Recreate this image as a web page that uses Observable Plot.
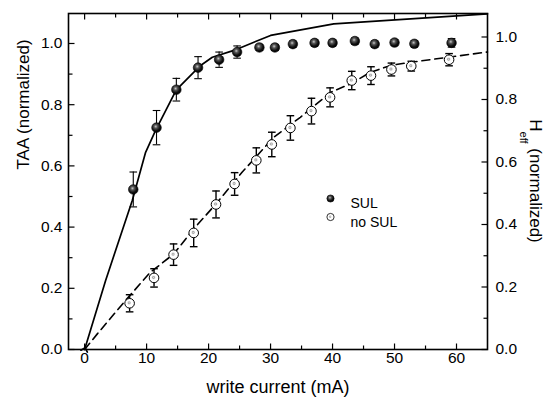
<!DOCTYPE html>
<html><head><meta charset="utf-8">
<script src="https://cdn.jsdelivr.net/npm/d3@7"></script>
<script src="https://cdn.jsdelivr.net/npm/@observablehq/plot@0.6"></script>
<style>body{margin:0;background:#fff}</style>
</head><body><div id="chart"></div>
<script>
// ---- data ----
const sulX   = [7.85, 11.6, 14.8, 18.3, 21.7, 24.6, 28.2, 30.7, 33.6, 37.1, 40.0, 43.6, 46.8, 50.0, 53.2, 59.2];
const sulY   = [0.523, 0.725, 0.849, 0.921, 0.947, 0.972, 0.987, 0.987, 0.998, 1.002, 1.002, 1.008, 0.998, 1.003, 0.999, 1.002];
const sulErr = [0.057, 0.056, 0.037, 0.036, 0.025, 0.020, 0.010, 0.010, 0.010, 0.010, 0.010, 0.010, 0.010, 0.010, 0.010, 0.014];

const noX   = [7.26, 11.2, 14.35, 17.6, 21.2, 24.2, 27.7, 30.2, 33.2, 36.6, 39.6, 43.1, 46.2, 49.5, 52.7, 58.8];
const noY   = [0.151, 0.234, 0.310, 0.381, 0.474, 0.541, 0.618, 0.670, 0.724, 0.779, 0.824, 0.879, 0.895, 0.915, 0.926, 0.947];
const noErr = [0.028, 0.030, 0.035, 0.045, 0.044, 0.037, 0.041, 0.040, 0.040, 0.042, 0.031, 0.030, 0.029, 0.021, 0.016, 0.020];

// H_eff curves (right axis values)
const solidX = [0, 3.39, 7.69, 9.84, 11.45, 14.79, 18.71, 20.6, 24.08, 30.0, 40.2, 65.0];
const solidV = [0, 0.221, 0.477, 0.631, 0.701, 0.831, 0.909, 0.935, 0.957, 1.005, 1.042, 1.074];
const dashX  = [0, 2.05, 6.6, 10.6, 14.4, 17.6, 21.2, 25.4, 30.5, 34.8, 39.7, 42.9, 46.1, 49.4, 52.6, 65.0];
const dashV  = [0, 0.050, 0.157, 0.247, 0.306, 0.386, 0.466, 0.567, 0.679, 0.743, 0.823, 0.850, 0.887, 0.909, 0.919, 0.952];

const xMajor = [0, 10, 20, 30, 40, 50, 60];
const xMinor = [5, 15, 25, 35, 45, 55];
const yMajor = [0, 0.2, 0.4, 0.6, 0.8, 1.0];
const yMinor = [0.1, 0.3, 0.5, 0.7, 0.9];
const legendLabels = ["SUL", "no SUL"];
const xTitle = "write current (mA)";
const yTitle = "TAA (normalized)";
const y2Title = ["H", "eff", " (normalized)"];

// ---- build ----
const sul = sulX.map((x, i) => ({x, y: sulY[i], e: sulErr[i]}));
const nos = noX.map((x, i) => ({x, y: noY[i], e: noErr[i]}));
const solid = solidX.map((x, i) => ({x, v: solidV[i]}));
const dash = dashX.map((x, i) => ({x, v: dashV[i]}));

const yTop = 1.098;     // left axis top
const k = 312.5 / 306;  // right-axis unit relative to left-axis unit

const seg = (dx, dy) => ({draw(ctx) { ctx.moveTo(0, 0); ctx.lineTo(dx, dy); }});
const capSym = {draw(ctx) { ctx.moveTo(-3.8, 0); ctx.lineTo(3.8, 0); }};
const FONT = "Liberation Sans, Arial, Helvetica, sans-serif";

const defs = () => {
  const d = d3.create("svg:defs");
  const g1 = d.append("radialGradient").attr("id", "gSul").attr("cx", "0.42").attr("cy", "0.38").attr("r", "0.62");
  g1.append("stop").attr("offset", "0").attr("stop-color", "#c8c8c8");
  g1.append("stop").attr("offset", "0.3").attr("stop-color", "#555");
  g1.append("stop").attr("offset", "0.7").attr("stop-color", "#111");
  g1.append("stop").attr("offset", "1").attr("stop-color", "#000");
  const g2 = d.append("radialGradient").attr("id", "gNo").attr("cx", "0.45").attr("cy", "0.45").attr("r", "0.55");
  g2.append("stop").attr("offset", "0").attr("stop-color", "#e4e4e4");
  g2.append("stop").attr("offset", "0.2").attr("stop-color", "#a8a8a8");
  g2.append("stop").attr("offset", "0.33").attr("stop-color", "#ececec");
  g2.append("stop").attr("offset", "0.45").attr("stop-color", "#fff");
  g2.append("stop").attr("offset", "1").attr("stop-color", "#fff");
  return d.node();
};

const tickMarks = (data, anchor, sym, yf) => Plot.dot(data, {
  ...(anchor === "top" || anchor === "bottom" ? {x: d => d} : {y: yf}),
  frameAnchor: anchor, symbol: sym, stroke: "black", fill: "none", strokeWidth: 1.2
});

const chart = Plot.plot({
  width: 546, height: 401,
  marginLeft: 68, marginRight: 59, marginTop: 13, marginBottom: 52,
  x: {domain: [-2.6, 65], axis: null},
  y: {domain: [0, yTop], axis: null},
  style: {fontFamily: FONT, background: "white", color: "black"},
  marks: [
    defs,
    // curves
    Plot.line(solid, {x: "x", y: d => d.v * k, stroke: "black", strokeWidth: 1.7, markerStart: "arrow"}),
    Plot.line(dash, {x: "x", y: d => d.v * k, stroke: "black", strokeWidth: 1.6, strokeDasharray: "8,5"}),
    // error bars
    Plot.ruleX(sul, {x: "x", y1: d => d.y - d.e, y2: d => d.y + d.e, stroke: "black", strokeWidth: 1.1}),
    Plot.dot(sul, {x: "x", y: d => d.y - d.e, symbol: capSym, stroke: "black", fill: "none", strokeWidth: 1.1}),
    Plot.dot(sul, {x: "x", y: d => d.y + d.e, symbol: capSym, stroke: "black", fill: "none", strokeWidth: 1.1}),
    Plot.ruleX(nos, {x: "x", y1: d => d.y - d.e, y2: d => d.y + d.e, stroke: "black", strokeWidth: 1.4}),
    Plot.dot(nos, {x: "x", y: d => d.y - d.e, symbol: capSym, stroke: "black", fill: "none", strokeWidth: 1.4}),
    Plot.dot(nos, {x: "x", y: d => d.y + d.e, symbol: capSym, stroke: "black", fill: "none", strokeWidth: 1.4}),
    // points
    Plot.dot(sul, {x: "x", y: "y", r: 4.8, fill: "url(#gSul)", stroke: "black", strokeWidth: 0.6}),
    Plot.dot(nos, {x: "x", y: "y", r: 4.8, fill: "url(#gNo)", stroke: "black", strokeWidth: 1}),
    // frame & ticks (inward)
    Plot.frame({stroke: "black", strokeWidth: 1.6}),
    tickMarks(xMajor, "bottom", seg(0, -6)),
    tickMarks(xMinor, "bottom", seg(0, -4)),
    tickMarks(xMajor, "top", seg(0, 6)),
    tickMarks(xMinor, "top", seg(0, 4)),
    tickMarks(yMajor, "left", seg(6, 0), d => d),
    tickMarks(yMinor, "left", seg(4, 0), d => d),
    tickMarks(yMajor, "right", seg(-6, 0), d => d * k),
    tickMarks(yMinor, "right", seg(-4, 0), d => d * k),
    // tick labels
    Plot.text(xMajor, {x: d => d, frameAnchor: "bottom", dy: 13, text: d => String(d), fontSize: 15.5, fill: "black"}),
    Plot.text(yMajor, {y: d => d, frameAnchor: "left", dx: -6, textAnchor: "end", text: d => d.toFixed(1), fontSize: 15.5, fill: "black"}),
    Plot.text(yMajor, {y: d => d * k, frameAnchor: "right", dx: 8, textAnchor: "start", text: d => d.toFixed(1), fontSize: 15.5, fill: "black"}),
    // axis titles
    Plot.text([xTitle], {frameAnchor: "bottom", dy: 43, text: d => d, fontSize: 18, fill: "black"}),
    Plot.text([yTitle], {frameAnchor: "left", dx: -45, dy: -12, rotate: -90, text: d => d, fontSize: 17, fill: "black"}),
    // legend
    Plot.dot([legendLabels[0]], {frameAnchor: "top-left", dx: 262, dy: 185, r: 3.6, fill: "url(#gSul)", stroke: "black", strokeWidth: 0.6}),
    Plot.dot([legendLabels[1]], {frameAnchor: "top-left", dx: 262, dy: 203.5, r: 3.6, fill: "url(#gNo)", stroke: "black", strokeWidth: 0.8}),
    Plot.text([legendLabels[0]], {frameAnchor: "top-left", dx: 282, dy: 185, textAnchor: "start", text: d => d, fontSize: 14, fill: "black"}),
    Plot.text([legendLabels[1]], {frameAnchor: "top-left", dx: 282, dy: 203.5, textAnchor: "start", text: d => d, fontSize: 14, fill: "black"})
  ]
});

// right-axis title with subscript
const t = d3.select(chart).append("text")
  .attr("transform", "translate(530,181) rotate(90)")
  .attr("text-anchor", "middle")
  .attr("font-family", FONT).attr("font-size", 17).attr("fill", "black");
t.append("tspan").text(y2Title[0]);
t.append("tspan").attr("dy", 10).attr("font-size", 11).text(y2Title[1]);
t.append("tspan").attr("dy", -10).text(y2Title[2]);

document.getElementById("chart").append(chart);
</script>
</body></html>
